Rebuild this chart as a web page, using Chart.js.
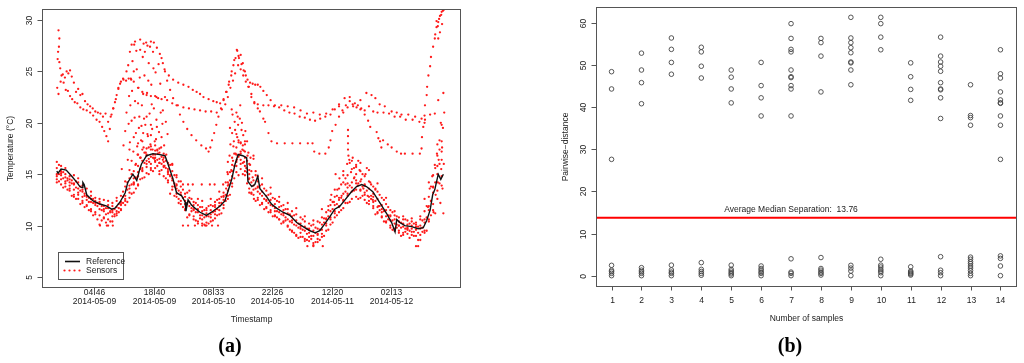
<!DOCTYPE html>
<html><head><meta charset="utf-8">
<script src="https://cdn.jsdelivr.net/npm/chart.js@4/dist/chart.umd.min.js"></script>
<style>
html,body{margin:0;padding:0;background:#fff;}
#wrap{position:relative;width:1024px;height:363px;overflow:hidden;background:#fff;}
#ca{position:absolute;left:0;top:0;}
#cb{position:absolute;left:512px;top:0;}
</style></head><body>
<div id="wrap"><canvas id="ca" width="512" height="363"></canvas><canvas id="cb" width="512" height="363"></canvas></div>
<script>
// ---------------- Panel (a) data ----------------
const tickHours = [4.767, 18.667, 32.55, 46.433, 60.333, 74.217]; // hours since 2014-05-09 00:00
const tickTimes = ['04:46','18:40','08:33','22:26','12:20','02:13'];
const tickDates = ['2014-05-09','2014-05-09','2014-05-10','2014-05-10','2014-05-11','2014-05-12'];
const tempTicks = [5,10,15,20,25,30];

const refHours = [-4.0,-3.7,-3.0,-1.8,-0.5,0.5,1.4,1.9,2.1,2.4,3.0,4.5,6.1,7.7,8.8,9.6,10.8,12.0,12.6,13.8,14.7,15.4,15.8,17.0,18.5,20.1,21.3,22.0,23.2,24.0,25.2,26.0,26.2,26.7,27.5,28.3,29.5,31.0,32.5,34.2,35.3,36.0,36.9,37.7,38.4,39.5,40.4,40.7,41.6,42.3,43.0,43.5,45.1,46.2,47.4,48.9,50.5,52.1,53.6,55.2,56.4,57.5,58.7,59.9,61.0,62.2,63.4,64.9,66.1,67.3,68.4,69.9,71.6,73.1,74.3,75.1,75.5,76.2,77.4,79.0,80.5,81.7,82.5,83.3,83.9,84.4,85.2,85.8,86.4];
const refTemps = [15.3,15.1,15.5,15.4,14.8,14.3,13.8,13.7,14.2,14.0,13.0,12.4,12.1,11.9,11.6,11.7,12.3,13.2,14.2,15.0,14.4,15.5,16.0,16.8,17.0,16.9,16.8,16.0,14.5,13.2,12.9,12.3,11.4,12.5,12.0,11.7,11.3,11.0,11.4,11.9,12.4,13.3,14.5,16.0,16.9,16.8,16.6,14.3,13.8,14.0,14.8,13.6,12.8,12.1,11.7,11.3,11.0,10.3,9.9,9.5,9.3,9.5,10.2,10.9,11.6,11.9,12.5,13.3,13.8,14.0,13.8,13.3,12.2,11.2,10.3,9.4,10.6,10.3,10.0,9.9,9.7,9.8,10.5,11.5,13.0,13.5,15.0,14.5,15.0];

// Sensors read hourly (-4 .. 86 h)
const hourlyHours = [-4,-3,-2,-1,0,1,2,3,4,5,6,7,8,9,10,11,12,13,14,15,16,17,18,19,20,21,22,23,24,25,26,27,28,29,30,31,32,33,34,35,36,37,38,39,40,41,42,43,44,45,46,47,48,49,50,51,52,53,54,55,56,57,58,59,60,61,62,63,64,65,66,67,68,69,70,71,72,73,74,75,76,77,78,79,80,81,82,83,84,85,86];
const sensor1 = [14.8,14.5,14.3,13.9, 13.5,13.2,12.8,12.5,12.3,12.0,11.6,11.4,11.2,11.5, 11.8,12.3,12.9,13.6,14.2,14.8,15.3,15.7,16.0,16.2, 16.1,15.8,15.2,14.4,13.6,13.0,12.4,11.9,11.6,11.3, 11.0,10.9,11.1,11.4,11.9,12.5,13.4,14.8,16.2,16.4, 15.8,14.6,13.9,13.3,12.9,12.5,12.0,11.7,11.3,11.0, 10.6,10.3,10.0,9.7,9.5,9.3,9.0,9.1,9.6,10.2, 10.8,11.4,11.9,12.4,12.9,13.3,13.5,13.4,13.2,12.8, 12.3,11.8,11.3,10.9,10.5,10.2,10.0,9.9,9.8,9.7, 9.6,9.7,10.3,11.5,13.2,15.0,16.4];
const sensor2 = [15.6,15.1,14.7,14.5, 14.0,13.6,13.3,12.9,12.6,12.4,12.1,11.9,11.7,11.3, 11.4,12.0,12.6,13.2,14.1,15.2,15.6,16.3,16.7,16.9, 16.5,16.2,15.5,14.6,13.9,13.2,12.8,12.3,12.0,11.6, 11.4,11.2,11.5,11.8,12.2,12.8,13.9,15.3,16.9,17.2, 16.6,15.0,14.4,13.8,13.3,12.9,12.5,12.1,11.8,11.5, 11.2,10.9,10.5,10.2,9.9,9.7,9.5,9.7,10.1,10.7, 11.4,12.0,12.5,13.1,13.7,14.2,14.4,14.3,14.0,13.6, 13.1,12.6,12.0,11.5,11.0,10.6,10.4,10.2,10.1,10.0, 9.9,10.0,10.6,11.9,13.8,15.8,17.2];
const sensor3 = [14.2,14.0,13.8,13.4, 13.0,12.6,12.2,11.9,11.6,11.3,11.0,10.7,10.6,10.9, 11.2,11.6,12.0,12.7,13.2,13.9,14.6,15.1,15.4,15.6, 15.3,14.8,14.2,13.5,12.8,12.1,11.5,11.0,10.6,10.4, 10.2,10.3,10.4,10.7,11.1,11.7,12.6,13.8,15.2,15.5, 14.9,13.6,13.0,12.5,12.1,11.7,11.3,10.9,10.6,10.3, 9.9,9.5,9.1,8.9,8.7,8.5,8.3,8.4,8.9,9.5, 10.1,10.8,11.3,11.7,12.2,12.6,12.8,12.7,12.5,12.1, 11.7,11.2,10.8,10.4,10.0,9.7,9.5,9.3,9.2,9.1, 9.0,9.1,9.5,10.6,12.1,13.4,14.8];
const sensor4 = [16.2,15.3,15.0,14.8, 14.9,14.2,13.5,13.6,12.9,12.7,12.3,12.5,12.0,12.2, 12.4,12.9,13.8,14.6,15.3,15.8,16.3,16.9,17.4,17.3, 17.1,16.6,16.1,15.3,14.7,13.8,13.1,12.7,12.3,12.0, 11.8,11.7,12.0,12.3,12.6,13.2,14.2,15.9,17.6,18.1, 17.2,16.0,16.5,14.8,14.0,13.4,13.1,12.6,12.3,12.0, 11.6,11.4,11.1,10.8,10.4,10.2,10.1,10.4,10.8,11.3, 12.0,12.8,13.6,14.2,14.9,15.5,15.7,15.3,14.8,14.3, 13.8,13.3,12.7,12.1,11.5,11.0,10.8,10.6,10.5,10.4, 10.3,10.6,11.4,12.8,14.9,16.8,18.2];
const sensor5 = [14.5,14.9,14.1,13.6, 12.8,13.0,12.4,12.0,11.4,11.1,10.1,10.8,10.0,10.4, 11.0,11.5,12.4,13.9,14.6,14.0,15.4,16.8,15.6,16.3, 15.0,15.7,14.4,13.8,13.1,12.4,11.6,11.1,10.9,10.2, 10.6,10.0,10.8,11.1,11.5,12.0,12.9,14.1,15.8,16.0, 15.3,13.2,13.5,12.7,12.2,11.8,11.5,11.0,10.6,10.4, 10.0,9.4,9.0,9.3,8.5,8.9,8.1,8.7,9.2,10.0, 10.6,11.2,11.8,12.5,13.1,13.7,14.1,13.5,13.0,12.4, 11.9,11.3,10.9,10.3,9.8,9.5,9.3,9.1,9.6,9.4, 8.0,8.6,9.3,10.4,11.5,12.6,13.9];
const sensor9 = [15.0,15.8,15.6,14.2, 14.1,14.6,13.9,12.8,13.3,12.2,12.6,11.6,12.4,11.9, 12.7,12.1,14.3,15.4,14.0,16.9,17.4,16.0,17.7,16.6, 17.5,17.0,15.0,15.9,14.0,14.3,12.1,13.4,11.5,12.6, 12.4,11.5,12.6,12.0,13.3,12.9,15.0,16.6,18.9,17.0, 18.2,15.4,16.8,14.3,14.6,12.4,13.7,11.4,12.8,11.2, 12.2,10.5,11.7,9.9,10.9,9.6,10.5,9.2,11.6,10.6, 12.5,13.5,12.7,14.9,14.1,16.3,15.0,16.1,13.9,15.4, 12.8,14.1,11.6,12.7,10.9,11.4,10.0,10.9,9.7,10.7, 10.1,10.9,12.6,14.2,13.7,17.9,19.8];

// Sensors read on the half hour (-3.5 .. 85.5 h)
const halfHours = [-3.5,-2.5,-1.5,-0.5,0.5,1.5,2.5,3.5,4.5,5.5,6.5,7.5,8.5,9.5,10.5,11.5,12.5,13.5,14.5,15.5,16.5,17.5,18.5,19.5,20.5,21.5,22.5,23.5,24.5,25.5,26.5,27.5,28.5,29.5,30.5,31.5,32.5,33.5,34.5,35.5,36.5,37.5,38.5,39.5,40.5,41.5,42.5,43.5,44.5,45.5,46.5,47.5,48.5,49.5,50.5,51.5,52.5,53.5,54.5,55.5,56.5,57.5,58.5,59.5,60.5,61.5,62.5,63.5,64.5,65.5,66.5,67.5,68.5,69.5,70.5,71.5,72.5,73.5,74.5,75.5,76.5,77.5,78.5,79.5,80.5,81.5,82.5,83.5,84.5,85.5];
const sensor6 = [15.0,14.6,14.4,14.1, 13.7,13.4,12.9,12.7,12.2,11.9,11.5,11.1,11.3,11.6, 12.1,12.8,13.5,14.0,14.7,15.5,16.1,16.5,16.6,16.4, 16.0,15.6,14.8,14.1,13.4,12.7,12.1,11.7,11.3,11.0, 10.8,10.9,11.3,11.6,12.2,13.0,14.4,15.8,16.7,16.1, 15.2,14.2,13.6,13.1,12.6,12.2,11.9,11.4,11.1,10.8, 10.4,10.1,9.8,9.6,9.2,9.0,9.3,9.6,10.3,10.9, 11.6,12.1,12.7,13.3,13.9,14.6,14.1,13.8,13.4,12.9, 12.4,11.9,11.4,11.0,10.5,10.1,9.8,9.7,9.5,9.4, 9.3,9.8,10.8,12.4,14.2,16.0];
const sensor7 = [15.9,13.7,14.6,12.9, 14.3,12.1,13.1,11.5,12.6,10.6,11.9,10.3,11.4,10.9, 11.7,13.3,12.3,15.0,13.6,16.6,14.7,17.6,15.3,17.4, 15.4,16.3,13.1,14.9,12.2,13.5,10.8,12.6,10.5,11.8, 10.1,11.9,10.5,12.5,11.2,14.2,13.0,17.0,14.9,17.8, 14.1,15.3,12.4,13.9,11.6,13.0,10.9,12.4,10.2,11.6, 9.6,11.0,8.8,10.6,8.6,10.0,8.4,10.3,9.0,11.5, 10.3,12.9,11.5,14.6,12.3,15.6,12.6,15.0,12.2,14.0, 11.1,13.0,10.4,11.8,9.6,10.9,9.0,10.6,8.8,10.2, 8.6,10.5,9.5,13.8,11.2,17.4];
const sensor8 = [14.3,15.2,13.5,14.4, 12.6,13.8,11.8,12.3,11.0,12.2,10.5,11.7,10.4,11.1, 11.3,12.2,14.2,13.1,16.0,14.5,17.1,15.0,16.9,15.8, 16.7,14.6,15.9,12.9,14.3,11.8,13.2,11.4,12.2,10.7, 11.5,10.2,11.9,11.0,12.8,12.4,15.2,14.6,18.3,15.0, 16.3,13.1,14.9,12.0,13.6,11.3,12.7,10.8,11.9,10.5, 11.1,9.3,10.2,8.9,9.7,8.7,9.8,8.6,10.7,9.6, 12.3,11.0,14.0,12.2,16.1,13.4,16.3,12.9,15.6,12.6, 13.6,11.5,12.5,10.6,11.3,9.8,10.3,9.4,10.2,9.0, 9.9,9.4,11.9,11.0,15.6,14.1];

// Noisy sensors around the daily peaks and the final rise: [hour, temp]
const peakOne = [[11.2,15.5],[11.6,17.8],[12.0,19.2],[12.3,21.0],[12.6,16.4],[12.9,22.6],[13.1,18.1],[13.3,24.3],[13.5,20.2],[13.7,26.0],[13.9,17.2],[14.1,27.6],[14.3,22.1],[14.5,19.0],[14.7,25.2],[14.9,16.9],[15.1,23.4],[15.3,20.6],[15.5,27.1],[15.7,18.3],[15.9,21.7],[16.1,26.4],[16.3,17.6],[16.5,24.6],[16.7,19.8],[16.9,27.8],[17.1,22.9],[17.3,18.7],[17.5,25.8],[17.7,20.9],[17.9,17.9],[18.1,23.7],[18.3,19.4],[18.5,26.9],[18.7,21.4],[18.9,18.2],[19.1,24.9],[19.3,20.3],[19.5,17.3],[19.7,22.4],[19.9,19.1],[20.2,23.8],[20.5,18.6],[20.8,21.2],[21.1,17.8],[21.5,20.1],[21.9,18.9],
 [13.5,16.3],[14.0,18.6],[14.4,15.9],[14.8,17.7],[15.2,19.5],[15.6,16.6],[16.0,18.2],[16.4,20.4],[16.8,17.1],[17.2,18.9],[17.6,16.2],[18.0,19.8],[18.4,17.4],[18.8,16.5],[19.2,18.4],[19.6,17.0],[20.0,16.1],[20.4,17.6],[20.8,16.4],[21.2,15.8],[21.6,16.9],[22.0,15.3],[22.5,14.9],[23.0,16.0],[23.5,13.8],[24.0,14.9],[24.5,12.6],
 [12.8,19.9],[13.2,21.7],[13.6,23.1],[14.0,25.0],[14.2,20.5],[14.6,27.0],[15.0,21.9],[15.4,24.4],[15.8,19.7],[16.2,22.8],[16.6,26.9],[17.0,20.6],[17.4,24.1],[17.8,27.4],[18.2,21.8],[18.6,25.3],[19.0,22.6],[19.4,19.6],[19.8,25.7],[20.3,21.0],[20.7,19.9],[21.3,22.5],[13.0,17.4],[15.0,18.0],[16.2,19.0],[17.0,17.5],[18.0,18.8],[19.0,17.8]];
const peakTwo = [[35.6,13.6],[35.9,15.2],[36.2,14.0],[36.4,16.8],[36.6,17.9],[36.8,15.4],[37.0,19.0],[37.2,16.3],[37.4,18.2],[37.6,20.1],[37.8,17.0],[38.0,21.0],[38.2,18.6],[38.4,19.8],[38.6,16.9],[38.8,20.4],[39.0,18.0],[39.2,19.3],[39.4,17.4],[39.6,18.8],[39.8,16.2],[40.0,17.9],[40.3,15.6],[40.6,16.8],[40.9,14.5],[41.2,15.9],[41.5,13.2],[41.8,14.7],[42.1,12.6],[42.5,15.3],[43.0,13.7],
 [36.0,16.2],[36.5,19.5],[36.9,21.3],[37.3,17.7],[37.7,19.3],[38.1,16.4],[38.5,18.1],[38.9,21.7],[39.3,20.0],[39.7,17.3],[40.1,19.2],[40.5,18.2],[40.8,17.1],[41.3,16.6],[37.1,20.8],[38.3,20.6]];
const peakThree = [[59.5,11.9],[60.2,13.0],[60.8,12.3],[61.2,15.0],[61.6,13.5],[62.1,14.6],[62.6,12.9],[63.0,15.3],[63.5,14.0],[63.9,16.0],[64.1,19.3],[64.1,18.7],[64.1,18.0],[64.1,17.4],[64.2,16.8],[64.4,16.4],[64.8,15.2],[65.2,16.6],[65.6,14.7],[66.0,15.9],[66.4,13.9],[66.8,15.4],[67.2,14.5],[67.7,13.6],[68.2,15.0],[68.7,12.9],[69.3,14.2],[69.9,12.5],[70.5,13.5],[71.2,11.9]];
const finalRise = [[82.8,11.8],[83.2,13.6],[83.5,12.4],[83.8,14.8],[84.1,11.3],[84.4,15.9],[84.6,13.0],[84.9,17.0],[85.1,14.2],[85.3,16.4],[85.5,18.3],[85.7,12.2],[85.9,15.5],[86.1,17.6],[86.3,19.5],[86.5,16.0],[86.6,21.0],[86.4,11.2],[86.2,13.6],[85.8,20.0],
 [84.5,28.6],[84.8,29.9],[85.1,29.4],[85.4,30.1],[85.6,28.8],[85.9,30.5],[86.1,29.6],[86.3,30.9],[86.5,31.0],[85.2,28.2]];
const integerSensor = [[25.5,14],[26.7,14],[27.8,14],[29.9,14],[31.8,14],[32.9,14],[34.9,14],[6.1,10],[7.7,10],[9.1,10],[25.5,10],[26.7,10],[28.3,10],[30.0,10],[30.7,10],[32.3,10],[33.7,10],[54.6,8],[56.0,8],[58.2,8],[80.5,8]];

// Upper (warm) sensors
const upperA = [[-3.6,29.0],[-3.4,28.2],[-3.5,27.4],[-3.7,26.9],[-3.8,26.2],[-3.4,25.9],[-3.2,25.3],[-2.9,24.6],[-2.4,23.9],[-1.9,23.2],[-1.4,23.1],[-0.9,22.6],[-0.4,22.3],[0.2,22.0],[0.8,21.9],[1.5,21.5],[2.2,21.3],[3.0,21.2],[3.8,21.0],[4.5,20.7],[5.3,20.3],[6.0,20.1],[6.6,19.6],[7.1,19.2],[7.6,18.7],[8.0,18.2],[8.4,19.4],[8.8,20.8],[9.2,21.4],[9.6,22.0],[10.0,22.7],[10.4,23.4],[10.8,23.8],[11.5,24.3],[12.3,25.0],[12.7,25.6],[13.1,26.9],[13.5,27.6],[14.3,27.9],[15.5,28.1],[16.3,27.7],[17.2,27.5],[18.0,27.9],[18.7,27.8],[19.4,27.3],[20.1,26.7],[20.8,25.8],[21.3,25.0],[22.2,24.6],[23.2,24.2],[24.4,23.9],[25.6,23.7],[26.8,23.5],[27.8,23.2],[28.7,23.0],[29.5,22.8],[30.3,22.5],[31.5,22.3],[32.6,22.1],[33.4,22.0],[34.2,21.9],[35.0,22.3],[35.7,23.0],[36.3,24.0],[36.9,25.0],[37.5,26.1],[38.1,27.1],[38.5,26.5],[39.0,26.6],[39.5,25.8],[40.0,25.0],[40.6,24.2],[41.2,23.9],[41.8,23.8],[42.4,23.7],[43.0,23.7],[43.6,23.5],[44.3,23.1],[45.1,22.7],[46.0,22.2],[47.0,21.7],[48.5,21.7],[50.0,21.6],[51.5,21.5],[53.0,21.2],[54.5,20.9],[56.0,21.0],[57.5,20.8],[59.0,20.9],[60.5,21.3],[62.0,21.8],[63.3,22.4],[64.5,22.5],[65.7,21.9],[67.0,22.2],[68.4,22.9],[69.6,22.7],[70.5,22.4],[71.5,21.8],[72.7,21.6],[74.3,21.1],[75.5,21.0],[76.6,20.8],[78.2,20.8],[79.8,20.6],[81.3,20.4],[82.1,20.3],[83.3,20.8],[84.4,20.9],[85.2,22.2],[86.4,22.9]];
const upperB = [[-3.9,23.4],[-3.6,22.8],[-3.1,24.0],[-2.6,24.7],[-2.1,24.4],[-1.7,25.0],[-1.3,24.8],[-0.9,25.1],[-0.5,24.5],[0.0,23.9],[0.5,23.0],[1.0,23.3],[1.5,22.7],[2.0,22.8],[2.6,22.1],[3.2,21.8],[3.8,21.6],[4.4,21.4],[5.0,21.1],[5.6,21.0],[6.2,20.9],[6.8,20.6],[7.4,20.9],[8.0,20.1],[8.6,20.6],[9.2,21.4],[9.8,22.3],[10.4,23.3],[11.0,24.0],[11.6,24.2],[12.2,24.1],[12.8,24.3],[13.4,24.2],[14.0,24.0],[15.0,23.4],[16.0,23.0],[17.0,22.7],[18.0,22.6],[19.3,22.5],[20.5,22.3],[21.8,22.2],[23.0,21.9],[24.3,21.7],[25.6,21.5],[26.9,21.4],[28.2,21.3],[29.5,21.2],[30.8,21.1],[32.1,21.1],[33.4,21.0],[34.6,21.3],[35.4,21.8],[36.0,22.5],[36.6,23.4],[37.2,24.1],[37.7,24.8],[38.4,25.6],[39.0,25.2],[39.6,24.6],[40.2,24.0],[40.8,23.5],[41.5,22.5],[42.2,21.9],[43.0,21.8],[44.3,21.7],[45.5,21.7],[46.8,21.6],[48.0,21.5],[49.2,21.2],[50.4,21.0],[51.6,20.9],[52.8,20.6],[54.0,20.5],[55.2,20.3],[56.4,20.2],[57.6,20.4],[58.8,20.6],[60.0,20.8],[61.0,21.3],[62.0,21.6],[63.0,21.0],[64.0,21.5],[65.2,21.8],[66.4,21.7],[67.2,21.4],[68.0,21.2],[69.0,21.6],[70.0,21.1],[71.0,21.0],[72.4,21.0],[73.7,20.9],[75.0,20.6],[76.3,20.6],[77.6,20.3],[79.2,20.3],[80.8,20.1],[82.0,20.0]];
const upperC = [[20.5,26.3],[21.2,25.2],[21.8,24.1],[22.5,23.2],[23.2,22.4],[24.0,21.7],[24.8,20.8],[25.6,20.1],[26.5,19.4],[27.5,18.8],[28.6,18.3],[29.8,17.8],[30.9,17.5],[31.5,17.2],[31.9,17.6],[32.3,18.3],[32.8,19.0],[33.3,19.8],[33.8,20.6],[34.4,21.4],[35.0,22.2],[35.6,23.0],[36.2,23.7],[36.8,24.6],[37.3,25.6],[37.8,26.3],[38.2,27.0],[38.6,26.3],[39.2,25.7],[39.7,25.1],[40.2,24.6],[40.9,23.5],[41.5,22.8],[42.2,22.0],[43.0,21.4],[43.5,21.1],[44.3,20.4],[44.7,20.1],[45.5,19.0],[46.2,18.2],[47.5,18.0],[49.3,18.0],[51.1,18.0],[52.9,18.0],[54.7,18.0],[55.8,18.0],[56.2,17.2],[57.4,17.0],[58.8,17.0],[59.6,17.6],[60.0,18.3],[60.4,19.2],[61.2,19.8],[62.0,20.6],[62.8,21.2],[63.6,21.7],[64.5,22.1],[65.3,21.6],[66.1,21.5],[67.0,21.3],[68.0,20.8],[68.8,20.2],[69.3,19.6],[70.8,19.1],[71.2,18.5],[71.6,18.2],[71.9,17.6],[72.3,18.3],[73.4,17.9],[74.3,17.6],[75.5,17.2],[76.5,17.0],[77.4,17.0],[79.2,17.0],[80.9,17.0],[81.3,17.5],[81.4,18.6],[81.7,19.6],[82.0,20.7],[82.1,21.7],[82.5,22.7],[82.6,23.5],[82.9,24.6],[83.3,25.5],[83.5,26.4],[84.0,27.4],[84.4,28.2],[84.8,29.3],[85.2,29.8],[85.6,30.4],[86.0,30.8],[86.4,31.0]];

// ---------------- Panel (b) data ----------------
const sampleCounts = [1,2,3,4,5,6,7,8,9,10,11,12,13,14];
const distances = [
  [48.4,44.3,27.6,2.45,1.3,0.95,0.55,0],
  [52.8,48.8,45.8,40.8,1.9,1.3,0.9,0.55,0],
  [56.4,53.7,50.6,47.8,2.5,1.35,0.85,0.55,0],
  [54.2,53.1,49.7,46.9,3.1,1.5,1.0,0.55,0.1],
  [48.8,47.1,44.3,41.0,2.5,1.5,1.1,0.7,0.4,0],
  [50.6,45.1,42.2,37.9,2.3,1.7,1.3,0.85,0.55,0],
  [59.8,56.3,53.7,53.1,48.8,47.2,47.0,45.1,44.3,37.9,4.0,0.85,0.55,0],
  [56.3,55.3,52.1,43.6,4.3,1.7,1.3,0.85,0.55,0.15],
  [61.3,56.4,55.3,54.1,52.9,50.7,50.5,48.8,45.3,2.45,1.8,1.1,0],
  [61.3,59.8,56.6,53.6,3.9,2.5,2.05,1.5,1.1,0.7,0],
  [50.5,47.2,44.2,41.6,2.1,1.1,0.85,0.6,0.4,0.15],
  [56.6,52.1,50.7,49.7,48.5,45.8,44.3,44.1,42.2,37.3,4.5,1.3,0.7,0],
  [45.3,38.0,37.5,35.7,4.4,3.9,3.3,2.85,2.3,1.8,1.2,0.55,0],
  [53.6,47.9,46.9,43.6,41.7,41.0,40.9,37.9,35.7,27.6,4.7,4.1,2.3,0]
];
const medianSeparation = 13.76;
const distTicks = [0,10,20,30,40,50,60];

// ---------------- helpers ----------------
const FONT = '8.5px "Liberation Sans", Arial, Helvetica, sans-serif';
const TXT = '#222';
const FRAME = '#555';
const zip = (xs, ys) => xs.map((v,i) => ({x:v, y:ys[i]}));
const pairs = arr => arr.map(p => ({x:p[0], y:p[1]}));
const redDots = (pts) => ({type:'scatter', data:pts, pointRadius:1.15, pointHoverRadius:1.15, pointBackgroundColor:'#ff1a1a', pointBorderWidth:0, borderWidth:0, showLine:false, order:1});

function frame(ctx, a){
  const L=Math.round(a.left)+0.5, T=Math.round(a.top)+0.5, R=Math.round(a.right)+0.5, B=Math.round(a.bottom)+0.5;
  ctx.strokeStyle=FRAME; ctx.lineWidth=1;
  ctx.strokeRect(L,T,R-L,B-T);
  return {L,T,R,B};
}

// ---------------- Panel (a) ----------------
const panelAPlugin = {
  id:'panelA',
  afterDraw(chart){
    const {ctx, chartArea:a, scales:{x,y}} = chart;
    ctx.save();
    const {L,T,R,B} = frame(ctx,a);
    ctx.fillStyle=TXT; ctx.font=FONT; ctx.textAlign='center'; ctx.textBaseline='middle';
    ctx.strokeStyle=FRAME; ctx.lineWidth=1;
    tempTicks.forEach(v=>{
      const p=Math.round(y.getPixelForValue(v))+0.5;
      ctx.beginPath(); ctx.moveTo(L-5,p); ctx.lineTo(L,p); ctx.stroke();
      ctx.save(); ctx.translate(L-13,p); ctx.rotate(-Math.PI/2); ctx.fillText(String(v),0,0); ctx.restore();
    });
    tickHours.forEach((h,i)=>{
      const p=Math.round(x.getPixelForValue(h))+0.5;
      ctx.fillText(tickTimes[i],p,292.5);
      ctx.fillText(tickDates[i],p,301.5);
      ctx.beginPath(); ctx.moveTo(p,B); ctx.lineTo(p,B+7); ctx.stroke();
    });
    ctx.fillText('Timestamp',(L+R)/2,319.5);
    ctx.save(); ctx.translate(10.5,(T+B)/2); ctx.rotate(-Math.PI/2); ctx.fillText('Temperature (°C)',0,0); ctx.restore();
    // legend
    ctx.strokeStyle=FRAME; ctx.strokeRect(58.5,252.5,65,27);
    ctx.strokeStyle='#111'; ctx.lineWidth=1.6;
    ctx.beginPath(); ctx.moveTo(65,261.5); ctx.lineTo(80,261.5); ctx.stroke();
    ctx.fillStyle='#ff1a1a';
    [64.5,69.5,74.5,79.5].forEach(px=>{ctx.beginPath(); ctx.arc(px,270.5,1.1,0,Math.PI*2); ctx.fill();});
    ctx.fillStyle=TXT; ctx.textAlign='left';
    ctx.fillText('Reference',86,261.5);
    ctx.fillText('Sensors',86,270.5);
    ctx.textAlign='center';
    ctx.font='bold 20px "Liberation Serif", "Times New Roman", serif'; ctx.fillStyle='#000';
    ctx.fillText('(a)',230,347);
    ctx.restore();
  }
};

const sensorSets = [
  zip(hourlyHours,sensor1), zip(hourlyHours,sensor2), zip(hourlyHours,sensor3), zip(hourlyHours,sensor4), zip(hourlyHours,sensor5), zip(hourlyHours,sensor9),
  zip(halfHours,sensor6), zip(halfHours,sensor7), zip(halfHours,sensor8),
  pairs(peakOne), pairs(peakTwo), pairs(peakThree), pairs(finalRise), pairs(integerSensor),
  pairs(upperA), pairs(upperB), pairs(upperC)
];

new Chart(document.getElementById('ca'), {
  type:'scatter',
  data:{datasets:[
    {type:'line', label:'Reference', data:zip(refHours,refTemps), borderColor:'#111', borderWidth:1.4, pointRadius:0, fill:false, tension:0, order:0},
    ...sensorSets.map(s=>Object.assign({label:'Sensors'}, redDots(s)))
  ]},
  options:{
    responsive:false, animation:false, devicePixelRatio:1,
    layout:{padding:{top:9,right:52,left:0,bottom:0}},
    plugins:{legend:{display:false}, tooltip:{enabled:false}},
    events:[],
    scales:{
      x:{type:'linear', min:-7.46, max:90.29, grid:{display:false}, border:{display:false}, ticks:{display:false}, afterFit(s){s.height=76;}},
      y:{type:'linear', min:4.03, max:31.07, grid:{display:false}, border:{display:false}, ticks:{display:false}, afterFit(s){s.width=42;}}
    }
  },
  plugins:[panelAPlugin]
});

// ---------------- Panel (b) ----------------
const panelBPlugin = {
  id:'panelB',
  afterDraw(chart){
    const {ctx, chartArea:a, scales:{x,y}} = chart;
    ctx.save();
    const {L,T,R,B} = frame(ctx,a);
    ctx.fillStyle=TXT; ctx.font=FONT; ctx.textAlign='center'; ctx.textBaseline='middle';
    ctx.strokeStyle=FRAME; ctx.lineWidth=1;
    distTicks.forEach(v=>{
      const p=Math.round(y.getPixelForValue(v))+0.5;
      ctx.beginPath(); ctx.moveTo(L-5,p); ctx.lineTo(L,p); ctx.stroke();
      ctx.save(); ctx.translate(L-13,p); ctx.rotate(-Math.PI/2); ctx.fillText(String(v),0,0); ctx.restore();
    });
    sampleCounts.forEach(n=>{
      const p=Math.round(x.getPixelForValue(n))+0.5;
      ctx.beginPath(); ctx.moveTo(p,B); ctx.lineTo(p,B+4); ctx.stroke();
      ctx.fillText(String(n),p,300.5);
    });
    ctx.fillText('Number of samples',(L+R)/2,318.5);
    ctx.save(); ctx.translate(53.5,(T+B)/2); ctx.rotate(-Math.PI/2); ctx.fillText('Pairwise\u2212distance',0,0); ctx.restore();
    ctx.fillText('Average Median Separation:  ' + medianSeparation.toFixed(2), x.getPixelForValue(7), y.getPixelForValue(medianSeparation+2));
    ctx.font='bold 20px "Liberation Serif", "Times New Roman", serif'; ctx.fillStyle='#000';
    ctx.fillText('(b)',278,347);
    ctx.restore();
  }
};

const distPoints = [];
sampleCounts.forEach((n,i)=>distances[i].forEach(d=>distPoints.push({x:n,y:d})));

new Chart(document.getElementById('cb'), {
  type:'scatter',
  data:{datasets:[
    {type:'scatter', label:'Pairwise distance', data:distPoints, pointRadius:2.3, pointHoverRadius:2.3, pointBackgroundColor:'rgba(0,0,0,0)', pointBorderColor:'#444', pointBorderWidth:0.9, showLine:false, order:1},
    {type:'line', label:'Average median separation', data:[{x:0.48,y:medianSeparation},{x:14.52,y:medianSeparation}], borderColor:'#ff0000', borderWidth:2, pointRadius:0, fill:false, order:0}
  ]},
  options:{
    responsive:false, animation:false, devicePixelRatio:1,
    layout:{padding:{top:7,right:8,left:0,bottom:0}},
    plugins:{legend:{display:false}, tooltip:{enabled:false}},
    events:[],
    scales:{
      x:{type:'linear', min:0.48, max:14.52, grid:{display:false}, border:{display:false}, ticks:{display:false}, afterFit(s){s.height=77;}},
      y:{type:'linear', min:-2.45, max:63.75, grid:{display:false}, border:{display:false}, ticks:{display:false}, afterFit(s){s.width=84;}}
    }
  },
  plugins:[panelBPlugin]
});
</script></body></html>
